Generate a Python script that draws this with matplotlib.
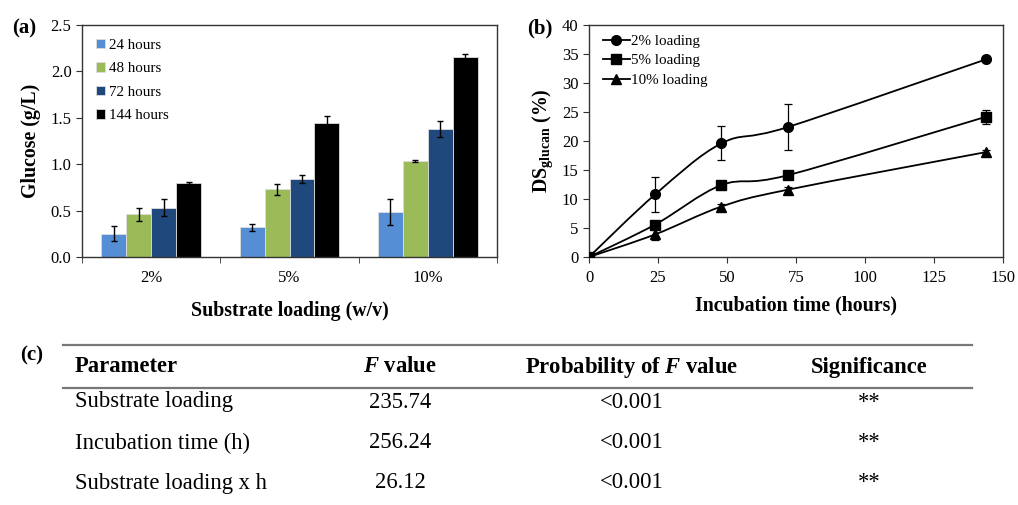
import matplotlib
matplotlib.use("Agg")
import matplotlib.pyplot as plt
import numpy as np
from matplotlib.path import Path
from matplotlib.patches import PathPatch
from matplotlib.lines import Line2D

plt.rcParams['font.family'] = ['Liberation Serif', 'DejaVu Serif']
plt.rcParams['mathtext.fontset'] = 'custom'
plt.rcParams['mathtext.rm'] = 'Liberation Serif:bold'
plt.rcParams['mathtext.it'] = 'Liberation Serif:bold:italic'
plt.rcParams['mathtext.bf'] = 'Liberation Serif:bold'

# ---- Panel (a) data ----
loadings = ['2%', '5%', '10%']
hours_labels = ['24 hours', '48 hours', '72 hours', '144 hours']
glucose_24 = [0.25, 0.32, 0.48]
glucose_48 = [0.46, 0.73, 1.03]
glucose_72 = [0.53, 0.84, 1.38]
glucose_144 = [0.80, 1.44, 2.15]
err_24 = [0.08, 0.04, 0.14]
err_48 = [0.07, 0.06, 0.01]
err_72 = [0.09, 0.04, 0.09]
err_144 = [0.01, 0.08, 0.04]
bar_colors = ['#558ED5', '#9BBB59', '#1F497D', '#000000']

# ---- Panel (b) data ----
time_h = [0, 24, 48, 72, 144]
ds_2 = [0, 10.8, 19.6, 22.4, 34.1]
ds_5 = [0, 5.6, 12.4, 14.1, 24.2]
ds_10 = [0, 3.9, 8.7, 11.6, 18.1]
ds_2_err = [0, 3.0, 2.9, 4.0, 0.3]
ds_5_err = [0, 0.6, 0.6, 0.6, 1.2]
ds_10_err = [0, 1.0, 0.5, 0.5, 0.4]
line_labels = ['2% loading', '5% loading', '10% loading']
markers = ['o', 's', '^']

# ---- Panel (c) table ----
table_header = ['Parameter', '$F$ value', 'Probability of $F$ value', 'Significance']
table_param = ['Substrate loading', 'Incubation time (h)', 'Substrate loading x h']
table_f = ['235.74', '256.24', '26.12']
table_p = ['<0.001', '<0.001', '<0.001']
table_sig = ['**', '**', '**']

W, H = 1018, 505
fig = plt.figure(figsize=(W / 100, H / 100), dpi=100)
SPINE = '#333333'

# ---------- Panel (a) ----------
axa = fig.add_axes([82 / W, 1 - 257 / H, 415 / W, 232 / H])
x = np.arange(len(loadings))
bw = 0.18
series = [glucose_24, glucose_48, glucose_72, glucose_144]
errs = [err_24, err_48, err_72, err_144]
for i, (vals, e, c, lab) in enumerate(zip(series, errs, bar_colors, hours_labels)):
    axa.bar(x + (i - 1.5) * bw, vals, bw, color=c, edgecolor='#dddddd', linewidth=0.6,
            label=lab, zorder=2)
    axa.errorbar(x + (i - 1.5) * bw, vals, yerr=e, fmt='none', ecolor='black',
                 elinewidth=1.0, capsize=2.5, capthick=1.0, zorder=3)
axa.set_xlim(-0.5, 2.5)
axa.set_ylim(0, 2.5)
axa.set_yticks(np.arange(0, 2.51, 0.5))
axa.set_yticklabels([f'{v:.1f}' for v in np.arange(0, 2.51, 0.5)])
axa.set_xticks(x)
axa.set_xticklabels(loadings)
axa.tick_params(axis='x', length=0, pad=9, labelsize=12)
axa.set_xticks([-0.5, 0.5, 1.5, 2.5], minor=True)
axa.tick_params(axis='x', which='minor', length=4, direction='out', color=SPINE)
axa.tick_params(axis='y', direction='out', length=4, labelsize=12, color=SPINE)
axa.set_xlabel('Substrate loading (w/v)', fontsize=14.3, fontweight='bold', labelpad=11)
axa.set_ylabel('Glucose (g/L)', fontsize=14.3, fontweight='bold', labelpad=7)
for s in axa.spines.values():
    s.set_color(SPINE)
    s.set_linewidth(1.0)
axa.legend(loc='upper left', frameon=False, fontsize=10.8, handlelength=0.6,
           handleheight=0.6, handletextpad=0.3, labelspacing=0.7,
           bbox_to_anchor=(0.0, 1.0))
fig.text(12 / W, 1 - 28 / H, '(a)', fontsize=15, fontweight='bold', va='center')

# ---------- Panel (b) ----------
axb = fig.add_axes([589 / W, 1 - 257 / H, 414 / W, 232 / H])


def smooth_path(xs, ys):
    pts = np.column_stack([xs, ys]).astype(float)
    n = len(pts)
    verts = [pts[0]]
    codes = [Path.MOVETO]
    for i in range(n - 1):
        p0 = pts[i - 1] if i > 0 else pts[i]
        p1 = pts[i]
        p2 = pts[i + 1]
        p3 = pts[i + 2] if i + 2 < n else pts[i + 1]
        c1 = p1 + (p2 - p0) / 6.0
        c2 = p2 - (p3 - p1) / 6.0
        verts += [c1, c2, p2]
        codes += [Path.CURVE4] * 3
    return Path(verts, codes)


handles = []
for vals, e, m, lab in zip([ds_2, ds_5, ds_10], [ds_2_err, ds_5_err, ds_10_err], markers, line_labels):
    axb.add_patch(PathPatch(smooth_path(time_h, vals), facecolor='none', edgecolor='black',
                            linewidth=1.3, zorder=2))
    axb.errorbar(time_h, vals, yerr=e, fmt='none', ecolor='black', elinewidth=0.9,
                 capsize=3, capthick=0.9, zorder=3)
    axb.plot(time_h, vals, linestyle='none', marker=m, color='black', markersize=7, zorder=4)
    handles.append(Line2D([], [], color='black', marker=m, markersize=7, linewidth=1.3, label=lab))
axb.set_xlim(0, 150)
axb.set_ylim(0, 40)
axb.set_xticks(np.arange(0, 151, 25))
axb.set_yticks(np.arange(0, 41, 5))
axb.tick_params(direction='out', length=4, labelsize=12, color=SPINE)
axb.tick_params(axis='x', pad=5)
axb.set_xlabel('Incubation time (hours)', fontsize=14.3, fontweight='bold', labelpad=7)
axb.set_ylabel(r'DS$_{\mathrm{glucan}}$ (%)', fontsize=14.3, fontweight='bold', labelpad=5)
for s in axb.spines.values():
    s.set_color(SPINE)
    s.set_linewidth(1.0)
axb.legend(handles=handles, loc='upper left', frameon=False, fontsize=10.8, handlelength=1.8,
           handletextpad=0.1, labelspacing=0.4, bbox_to_anchor=(0.0, 1.018))
fig.text(527 / W, 1 - 28 / H, '(b)', fontsize=15, fontweight='bold', va='center')

# ---------- Panel (c) table ----------
fig.text(20 / W, 1 - 355 / H, '(c)', fontsize=15, fontweight='bold', va='center')
fig.add_artist(Line2D([63 / W, 972 / W], [1 - 345 / H] * 2, color='#777777', linewidth=1.6))
fig.add_artist(Line2D([63 / W, 972 / W], [1 - 388 / H] * 2, color='#777777', linewidth=1.6))
col_x = [75, 400, 632, 869]
col_ha = ['left', 'center', 'center', 'center']
head_y = 367
row_y = [402, 443, 483]
for cx, ha, txt in zip(col_x, col_ha, table_header):
    fig.text(cx / W, 1 - head_y / H, txt, fontsize=16.3, fontweight='bold', ha=ha, va='center')
for ry, a, b, c, d in zip(row_y, table_param, table_f, table_p, table_sig):
    for cx, ha, txt in zip(col_x, col_ha, [a, b, c, d]):
        fig.text(cx / W, 1 - ry / H, txt, fontsize=16.3, ha=ha, va='center')

fig.savefig('out.png', dpi=100)
